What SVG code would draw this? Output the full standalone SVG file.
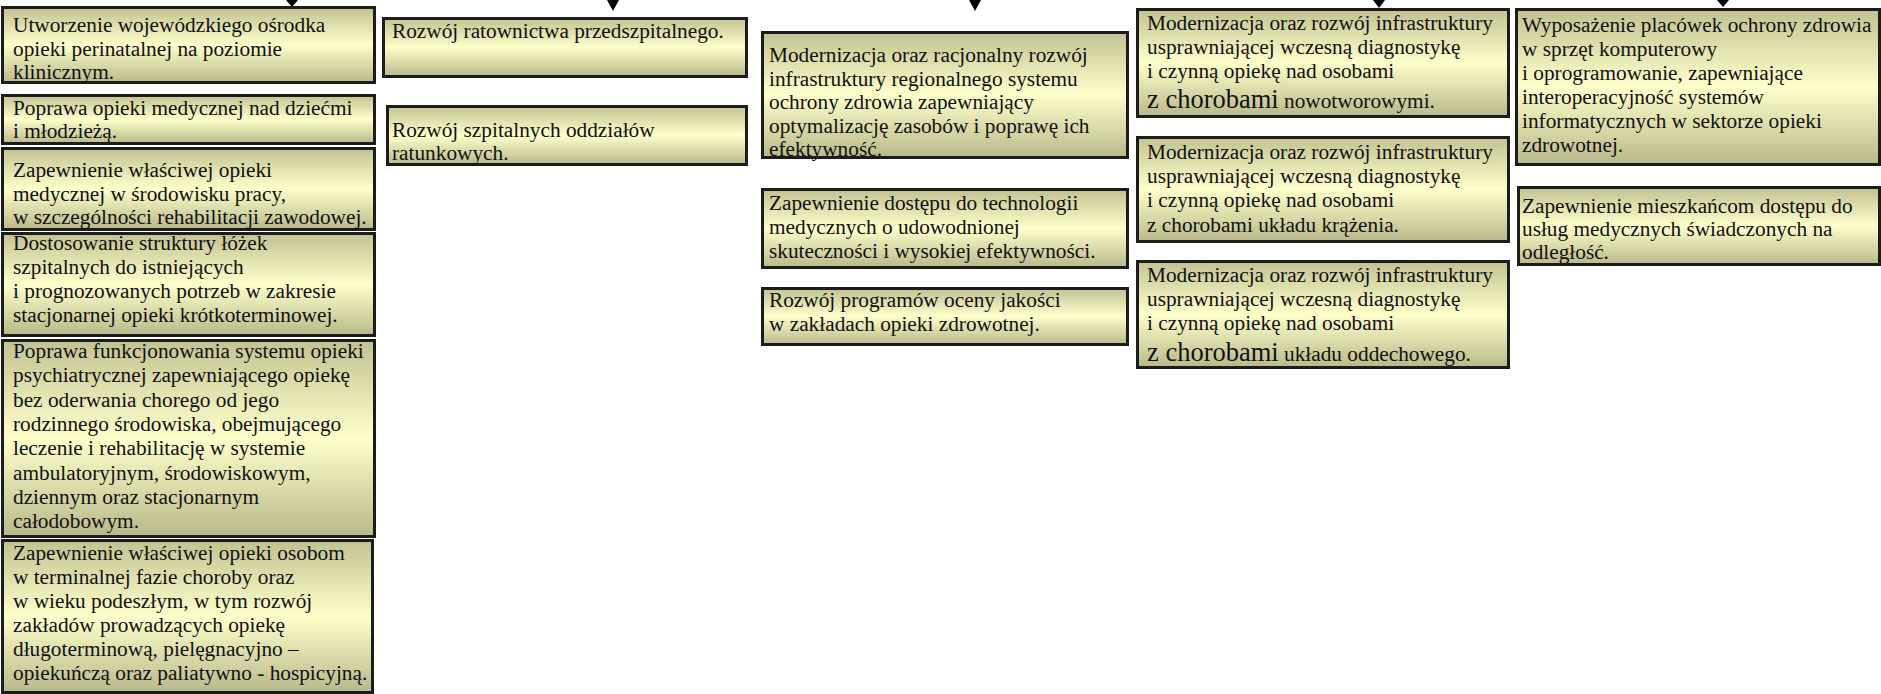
<svg xmlns="http://www.w3.org/2000/svg" width="1881" height="694" viewBox="0 0 1881 694">
<defs>
<linearGradient id="g" x1="0" y1="0" x2="0" y2="1">
<stop offset="0" stop-color="#c2c292"/>
<stop offset="0.5" stop-color="#ffffcc"/>
<stop offset="1" stop-color="#b8b88a"/>
</linearGradient>
</defs>
<style>
.box{fill:url(#g);stroke:#1c1c1c;stroke-width:3}
.t{font-family:"Liberation Serif","Times New Roman",serif;font-size:21.3px;fill:#111}
.big{font-size:26.5px}
.arr{fill:#000}
</style>
<rect width="1881" height="694" fill="#fff"/>
<g id="connectors">
<polygon class="arr" points="286,0 298,0 292,7"/>
<polygon class="arr" points="607,0 619,0 613,11"/>
<polygon class="arr" points="969,0 981,0 975,11"/>
<polygon class="arr" points="1373,0 1385,0 1379,8"/>
<polygon class="arr" points="1717,0 1729,0 1723,7"/>
</g>
<g id="n1">
<rect class="box" x="2.5" y="7.5" width="372" height="75"/>
<text class="t" x="13" y="32">Utworzenie wojewódzkiego ośrodka<tspan x="13" y="55.5">opieki perinatalnej na poziomie</tspan><tspan x="13" y="79">klinicznym.</tspan></text>
</g>
<g id="n2">
<rect class="box" x="2.5" y="95.5" width="372" height="48"/>
<text class="t" x="13" y="115">Poprawa opieki medycznej nad dziećmi<tspan x="13" y="138">i młodzieżą.</tspan></text>
</g>
<g id="n3">
<rect class="box" x="2.5" y="148.5" width="372" height="81"/>
<text class="t" x="13" y="177">Zapewnienie właściwej opieki<tspan x="13" y="200.5">medycznej w środowisku pracy,</tspan><tspan x="13" y="224">w szczególności rehabilitacji zawodowej.</tspan></text>
</g>
<g id="n4">
<rect class="box" x="2.5" y="233.5" width="372" height="102"/>
<text class="t" x="13" y="249.5">Dostosowanie struktury łóżek<tspan x="13" y="273.5">szpitalnych do istniejących</tspan><tspan x="13" y="297.5">i prognozowanych potrzeb w zakresie</tspan><tspan x="13" y="321.5">stacjonarnej opieki krótkoterminowej.</tspan></text>
</g>
<g id="n5">
<rect class="box" x="2.5" y="340.5" width="372" height="196"/>
<text class="t" x="13" y="358">Poprawa funkcjonowania systemu opieki<tspan x="13" y="382.3">psychiatrycznej zapewniającego opiekę</tspan><tspan x="13" y="406.6">bez oderwania chorego od jego</tspan><tspan x="13" y="430.9">rodzinnego środowiska, obejmującego</tspan><tspan x="13" y="455.2">leczenie i rehabilitację w systemie</tspan><tspan x="13" y="479.5">ambulatoryjnym, środowiskowym,</tspan><tspan x="13" y="503.8">dziennym oraz stacjonarnym</tspan><tspan x="13" y="528">całodobowym.</tspan></text>
</g>
<g id="n6">
<rect class="box" x="2.5" y="540.5" width="370" height="152"/>
<text class="t" x="13" y="560">Zapewnienie właściwej opieki osobom<tspan x="13" y="584">w terminalnej fazie choroby oraz</tspan><tspan x="13" y="608">w wieku podeszłym, w tym rozwój</tspan><tspan x="13" y="632">zakładów prowadzących opiekę</tspan><tspan x="13" y="656">długoterminową, pielęgnacyjno –</tspan><tspan x="13" y="680">opiekuńczą oraz paliatywno - hospicyjną.</tspan></text>
</g>
<g id="n7">
<rect class="box" x="383.5" y="18.5" width="363" height="58"/>
<text class="t" x="392" y="38">Rozwój ratownictwa przedszpitalnego.</text>
</g>
<g id="n8">
<rect class="box" x="387.5" y="106.5" width="359" height="58"/>
<text class="t" x="392" y="137">Rozwój szpitalnych oddziałów<tspan x="392" y="159.5">ratunkowych.</tspan></text>
</g>
<g id="n9">
<rect class="box" x="762.5" y="32.5" width="365" height="125"/>
<text class="t" x="769" y="62">Modernizacja oraz racjonalny rozwój<tspan x="769" y="85.5">infrastruktury regionalnego systemu</tspan><tspan x="769" y="109">ochrony zdrowia zapewniający</tspan><tspan x="769" y="132.5">optymalizację zasobów i poprawę ich</tspan><tspan x="769" y="156">efektywność.</tspan></text>
</g>
<g id="n10">
<rect class="box" x="762.5" y="189.5" width="365" height="78"/>
<text class="t" x="769" y="210">Zapewnienie dostępu do technologii<tspan x="769" y="234">medycznych o udowodnionej</tspan><tspan x="769" y="258">skuteczności i wysokiej efektywności.</tspan></text>
</g>
<g id="n11">
<rect class="box" x="762.5" y="288.5" width="365" height="56"/>
<text class="t" x="769" y="306.5">Rozwój programów oceny jakości<tspan x="769" y="330.5">w zakładach opieki zdrowotnej.</tspan></text>
</g>
<g id="n12">
<rect class="box" x="1137.5" y="9.5" width="371" height="107"/>
<text class="t" x="1147" y="30">Modernizacja oraz rozwój infrastruktury<tspan x="1147" y="54">usprawniającej wczesną diagnostykę</tspan><tspan x="1147" y="78">i czynną opiekę nad osobami</tspan><tspan x="1147" y="108"><tspan class="big">z chorobami</tspan> nowotworowymi.</tspan></text>
</g>
<g id="n13">
<rect class="box" x="1137.5" y="137.5" width="371" height="104"/>
<text class="t" x="1147" y="159">Modernizacja oraz rozwój infrastruktury<tspan x="1147" y="183">usprawniającej wczesną diagnostykę</tspan><tspan x="1147" y="207">i czynną opiekę nad osobami</tspan><tspan x="1147" y="232">z chorobami układu krążenia.</tspan></text>
</g>
<g id="n14">
<rect class="box" x="1137.5" y="261.5" width="371" height="106"/>
<text class="t" x="1147" y="282">Modernizacja oraz rozwój infrastruktury<tspan x="1147" y="306">usprawniającej wczesną diagnostykę</tspan><tspan x="1147" y="330">i czynną opiekę nad osobami</tspan><tspan x="1147" y="361"><tspan class="big">z chorobami</tspan> układu oddechowego.</tspan></text>
</g>
<g id="n15">
<rect class="box" x="1516.5" y="9.5" width="363" height="155"/>
<text class="t" x="1522" y="32">Wyposażenie placówek ochrony zdrowia<tspan x="1522" y="55.5">w sprzęt komputerowy</tspan><tspan x="1522" y="80">i oprogramowanie, zapewniające</tspan><tspan x="1522" y="103.5">interoperacyjność systemów</tspan><tspan x="1522" y="127.5">informatycznych w sektorze opieki</tspan><tspan x="1522" y="152">zdrowotnej.</tspan></text>
</g>
<g id="n16">
<rect class="box" x="1518.5" y="187.5" width="361" height="77"/>
<text class="t" x="1522" y="213">Zapewnienie mieszkańcom dostępu do<tspan x="1522" y="235.5">usług medycznych świadczonych na</tspan><tspan x="1522" y="258.5">odległość.</tspan></text>
</g>
</svg>
